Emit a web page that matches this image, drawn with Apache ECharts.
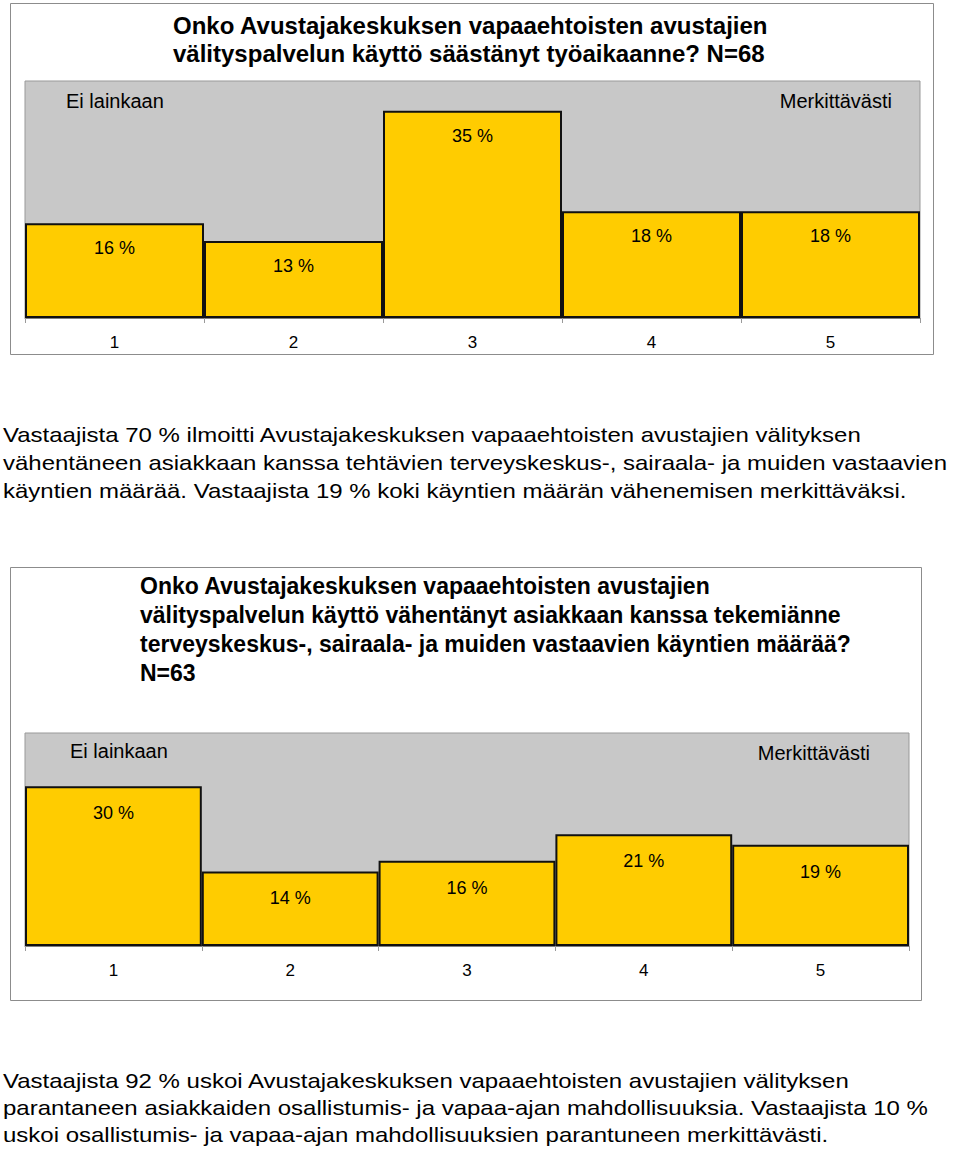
<!DOCTYPE html>
<html>
<head>
<meta charset="utf-8">
<script src="https://cdn.jsdelivr.net/npm/echarts@6/dist/echarts.min.js"></script>
<style>
html,body{margin:0;padding:0;background:#fff;}
#c{width:960px;height:1150px;}
</style>
</head>
<body>
<div id="c"></div>
<script>
// ---- data ----
var categories = ['1', '2', '3', '4', '5'];
var values1 = [16, 13, 35, 18, 18];
var values2 = [30, 14, 16, 21, 19];
var title1 = 'Onko Avustajakeskuksen vapaaehtoisten avustajien\nvälityspalvelun käyttö säästänyt työaikaanne? N=68';
var title2 = 'Onko Avustajakeskuksen vapaaehtoisten avustajien\nvälityspalvelun käyttö vähentänyt asiakkaan kanssa tekemiänne\nterveyskeskus-, sairaala- ja muiden vastaavien käyntien määrää?\nN=63';
var para1 = 'Vastaajista 70 % ilmoitti Avustajakeskuksen vapaaehtoisten avustajien välityksen\nvähentäneen asiakkaan kanssa tehtävien terveyskeskus-, sairaala- ja muiden vastaavien\nkäyntien määrää. Vastaajista 19 % koki käyntien määrän vähenemisen merkittäväksi.';
var para2 = 'Vastaajista 92 % uskoi Avustajakeskuksen vapaaehtoisten avustajien välityksen\nparantaneen asiakkaiden osallistumis- ja vapaa-ajan mahdollisuuksia. Vastaajista 10 %\nuskoi osallistumis- ja vapaa-ajan mahdollisuuksien parantuneen merkittävästi.';
var lowLabel = 'Ei lainkaan';
var highLabel = 'Merkittävästi';

var FONT = '"Liberation Sans", Arial, sans-serif';

function xAxisCfg(gi) {
  return {
    type: 'category', gridIndex: gi, data: categories,
    axisLine: { show: true, lineStyle: { color: '#808080', width: 1 } },
    axisTick: { show: true, length: 5, lineStyle: { color: '#9a9a9a' } },
    axisLabel: { color: '#000', fontSize: 17, fontFamily: FONT, margin: 16 }
  };
}
function yAxisCfg(gi) {
  return { type: 'value', gridIndex: gi, min: 0, max: 40, show: false, splitLine: { show: false } };
}
function barSeries(gi, vals, dist) {
  return {
    type: 'bar', xAxisIndex: gi, yAxisIndex: gi, data: vals,
    barCategoryGap: '0%',
    itemStyle: { color: '#FFCC00', borderColor: '#111', borderWidth: 2 },
    label: { show: true, position: 'insideTop', distance: dist, formatter: '{c} %',
             color: '#000', fontSize: 18, fontFamily: FONT },
    silent: true, animation: false
  };
}
function txt(t, x, y, size, align) {
  return { type: 'text', x: x, y: y, z: 100,
    style: { text: t, fill: '#000', font: size + 'px ' + FONT, align: align || 'left', verticalAlign: 'middle' } };
}
function para(t, x, y, lh) {
  return { type: 'text', x: x, y: y, scaleX: 1.2, z: 100,
    style: { text: t, x: 0, y: 0, fill: '#000', font: '20px ' + FONT, lineHeight: lh,
             align: 'left', verticalAlign: 'top' } };
}

var chart = echarts.init(document.getElementById('c'), null, { renderer: 'svg' });
chart.setOption({
  animation: false,
  backgroundColor: '#fff',
  title: [
    { text: title1, left: 173, top: 11, padding: 0,
      textStyle: { fontFamily: FONT, fontSize: 24, fontWeight: 'bold', color: '#000', lineHeight: 28 } },
    { text: title2, left: 140, top: 571, padding: 0,
      textStyle: { fontFamily: FONT, fontSize: 23, fontWeight: 'bold', color: '#000', lineHeight: 29 } }
  ],
  grid: [
    { left: 25, top: 81, width: 895, height: 237, show: true, backgroundColor: '#C8C8C8', borderColor: '#999', borderWidth: 1 },
    { left: 25, top: 733, width: 884, height: 213, show: true, backgroundColor: '#C8C8C8', borderColor: '#999', borderWidth: 1 }
  ],
  xAxis: [xAxisCfg(0), xAxisCfg(1)],
  yAxis: [yAxisCfg(0), yAxisCfg(1)],
  series: [barSeries(0, values1, 16), barSeries(1, values2, 18)],
  graphic: [
    { type: 'rect', z: -10, shape: { x: 10.5, y: 3.5, width: 923, height: 351 },
      style: { fill: 'none', stroke: '#8c8c8c', lineWidth: 1 } },
    { type: 'rect', z: -10, shape: { x: 10.5, y: 567.5, width: 911, height: 433 },
      style: { fill: 'none', stroke: '#8c8c8c', lineWidth: 1 } },
    txt(lowLabel, 66, 101, 20, 'left'),
    txt(highLabel, 892, 101, 20, 'right'),
    txt(lowLabel, 70, 751, 20, 'left'),
    txt(highLabel, 870, 753, 20, 'right'),
    para(para1, 3, 421, 28),
    para(para2, 3, 1068, 27)
  ]
});
</script>
</body>
</html>
